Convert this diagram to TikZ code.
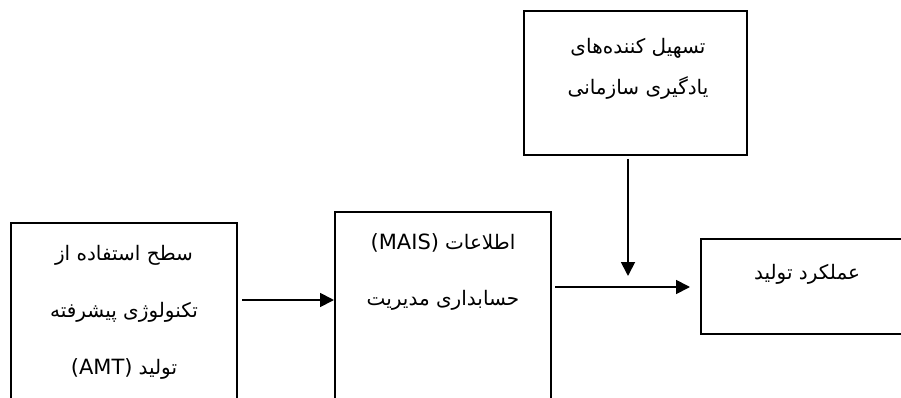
\documentclass[tikz,border=0pt]{standalone}
\usepackage{fontspec}
\usetikzlibrary{arrows.meta}
\TeXXeTstate=1
\newfontfamily\arabicfont[Script=Arabic]{DejaVu Sans}
\newfontfamily\latinfont{DejaVu Sans}
\newcommand{\fa}[1]{{\arabicfont\beginR #1\endR}}
\newcommand{\lat}[1]{{\latinfont\fontsize{21}{24}\selectfont #1}}
\tikzset{
  box/.style={draw, line width=1.8pt, rectangle, inner sep=0pt, anchor=north west},
  txt/.style={inner sep=0pt, font=\fontsize{20}{24}\selectfont},
  arr/.style={line width=1.8pt, -{Triangle[length=14pt,width=14pt]}},
}
\begin{document}
\begin{tikzpicture}[x=1pt,y=-1pt]
\useasboundingbox (0,0) rectangle (901,398);
\clip (0,0) rectangle (901,398);
\fill[white] (0,0) rectangle (901,398);
% boxes
\node[box, minimum width=226pt, minimum height=220pt] (b1) at (10,222) {};
\node[box, minimum width=216pt, minimum height=230pt] (b2) at (334,211) {};
\node[box, minimum width=223pt, minimum height=144pt] (b3) at (523,10) {};
\node[box, minimum width=220pt, minimum height=95pt] (b4) at (700,238) {};
% texts
\node[txt] (t11) at (124,255) {\fa{سطح استفاده از}};
\node[txt] (t12) at (124,312) {\fa{تکنولوژی پیشرفته}};
\node[txt] (t13) at (124,369) {\lat{(AMT)} \fa{تولید}};
\node[txt] (t21) at (443,243) {\lat{(MAIS)} \fa{اطلاعات}};
\node[txt] (t22) at (443,300) {\fa{حسابداری مدیریت}};
\node[txt] (t31) at (638,48) {\fa{تسهیل کننده‌های}};
\node[txt] (t32) at (638,88) {\fa{یادگیری سازمانی}};
\node[txt] (t41) at (807,274) {\fa{عملکرد تولید}};
% connectors
\coordinate (a1s) at (242,300);
\coordinate (a2s) at (555,287);
\coordinate (a2e) at (690,287);
\coordinate (a3s) at (628,159);
\coordinate (a3e) at (628,276);
\draw[arr] (a1s) -- (b2.west |- a1s);
\draw[arr] (a2s) -- (a2e);
\draw[arr] (a3s) -- (a3e);
\end{tikzpicture}
\end{document}
